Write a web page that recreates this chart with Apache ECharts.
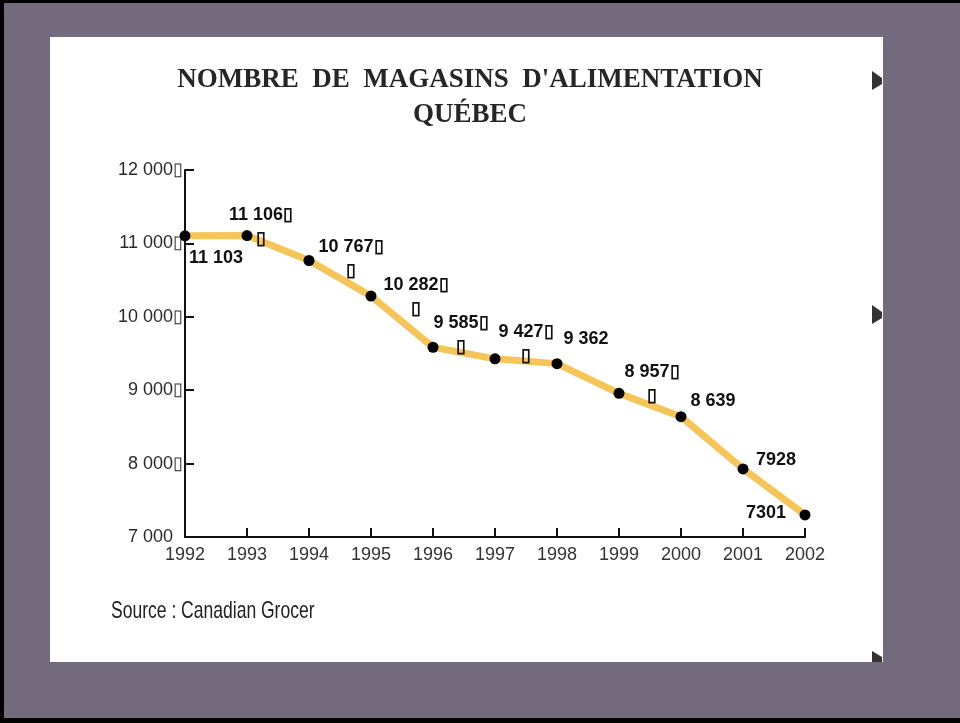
<!DOCTYPE html>
<html lang="fr">
<head>
    <meta charset="UTF-8">
    <script src="https://cdn.jsdelivr.net/npm/echarts@6/dist/echarts.min.js"></script>
    <title>Nombre de magasins d'alimentation - Québec</title>
    <style>
        html, body { margin: 0; padding: 0; }
        #main { width: 960px; height: 723px; }
    </style>
</head>
<body>
<div id="main"></div>
<script type="text/javascript">
    // données
    var years = ['1992', '1993', '1994', '1995', '1996', '1997', '1998', '1999', '2000', '2001', '2002'];
    var stores = [11103, 11106, 10767, 10282, 9585, 9427, 9362, 8957, 8639, 7928, 7301];
    var pointLabels = ['11 103', '11 106▯\n▯', '10 767▯\n▯', '10 282▯\n▯', '9 585▯\n▯', '9 427▯\n▯',
        '9 362', '8 957▯\n▯', '8 639', '7928', '7301'];
    var yTicks = [7000, 8000, 9000, 10000, 11000, 12000];
    var yTickLabels = ['7 000  ', '8 000▯', '9 000▯', '10 000▯', '11 000▯', '12 000▯'];

    // décalage de chaque étiquette par rapport à son point
    var labelOffsets = [[31, 22], [14, -9], [42, -1], [45, 1], [28, -12], [31, -15],
        [29, -25], [33, -9], [32, -16], [33, -9], [-39, -2]];

    var seriesData = [];
    for (var i = 0; i < stores.length; i++) {
        seriesData.push({
            value: stores[i],
            label: {formatter: pointLabels[i], offset: labelOffsets[i]}
        });
    }

    function txt(x, y, text, font, extra) {
        var el = {
            type: 'text', x: x, y: y, z: 10,
            style: {
                text: text, font: font, fill: '#262626',
                align: 'center', verticalAlign: 'middle',
                textAlign: 'center', textVerticalAlign: 'middle'
            }
        };
        for (var k in extra) el[k] = extra[k];
        return el;
    }

    var myChart = echarts.init(document.getElementById('main'));

    var option = {
        animation: false,
        backgroundColor: '#736a7d',
        graphic: [
            // panneau blanc
            {type: 'rect', z: -5, shape: {x: 50, y: 37, width: 833, height: 625}, style: {fill: '#ffffff'}},
            // cadre noir
            {type: 'rect', z: -4, shape: {x: 0, y: 0, width: 960, height: 3}, style: {fill: '#000'}},
            {type: 'rect', z: -4, shape: {x: 0, y: 0, width: 4, height: 723}, style: {fill: '#000'}},
            {type: 'rect', z: -4, shape: {x: 0, y: 718, width: 960, height: 5}, style: {fill: '#000'}},
            // petites flèches au bord droit
            {type: 'polygon', z: -3, shape: {points: [[872, 71], [882, 78], [882, 84], [872, 90]]}, style: {fill: '#333'}},
            {type: 'polygon', z: -3, shape: {points: [[872, 305], [882, 312], [882, 318], [872, 324]]}, style: {fill: '#333'}},
            {type: 'polygon', z: -3, shape: {points: [[872, 651], [882, 657], [882, 662], [872, 662]]}, style: {fill: '#333'}},
            txt(470, 80, "NOMBRE  DE  MAGASINS  D'ALIMENTATION", 'bold 27px "Liberation Serif"'),
            txt(470, 115, 'QUÉBEC', 'bold 27px "Liberation Serif"'),
            {
                type: 'text', x: 111, y: 611, z: 10, scaleX: 0.73,
                style: {
                    text: 'Source : Canadian Grocer', font: '24px "Liberation Sans"', fill: '#222',
                    verticalAlign: 'middle', textVerticalAlign: 'middle'
                }
            }
        ],
        grid: {left: 185, top: 170, width: 620, height: 367},
        xAxis: {
            type: 'category',
            data: years,
            boundaryGap: false,
            axisLine: {lineStyle: {color: '#111', width: 2}},
            axisTick: {inside: true, length: 9, lineStyle: {color: '#111', width: 2}},
            axisLabel: {
                margin: 9, color: '#333', fontSize: 18, fontFamily: 'Liberation Sans'
            },
            splitLine: {show: false}
        },
        yAxis: {
            type: 'value',
            min: 7000,
            max: 12000,
            interval: 1000,
            axisLine: {show: true, lineStyle: {color: '#111', width: 2}},
            axisTick: {show: true, inside: true, length: 9, lineStyle: {color: '#111', width: 2}},
            axisLabel: {
                margin: 2, color: '#2a2a2a', fontSize: 18, fontFamily: 'Liberation Sans',
                formatter: function (v) {
                    return yTickLabels[yTicks.indexOf(v)];
                }
            },
            splitLine: {show: false}
        },
        series: [
            {
                type: 'line',
                data: seriesData,
                symbol: 'circle',
                symbolSize: 11,
                itemStyle: {color: '#000'},
                lineStyle: {color: '#f5c55a', width: 7},
                label: {
                    show: true,
                    position: 'inside',
                    align: 'center',
                    verticalAlign: 'middle',
                    fontSize: 18,
                    fontWeight: 'bold',
                    lineHeight: 24,
                    color: '#111',
                    fontFamily: 'Liberation Sans'
                }
            }
        ]
    };

    myChart.setOption(option);
</script>
</body>
</html>
